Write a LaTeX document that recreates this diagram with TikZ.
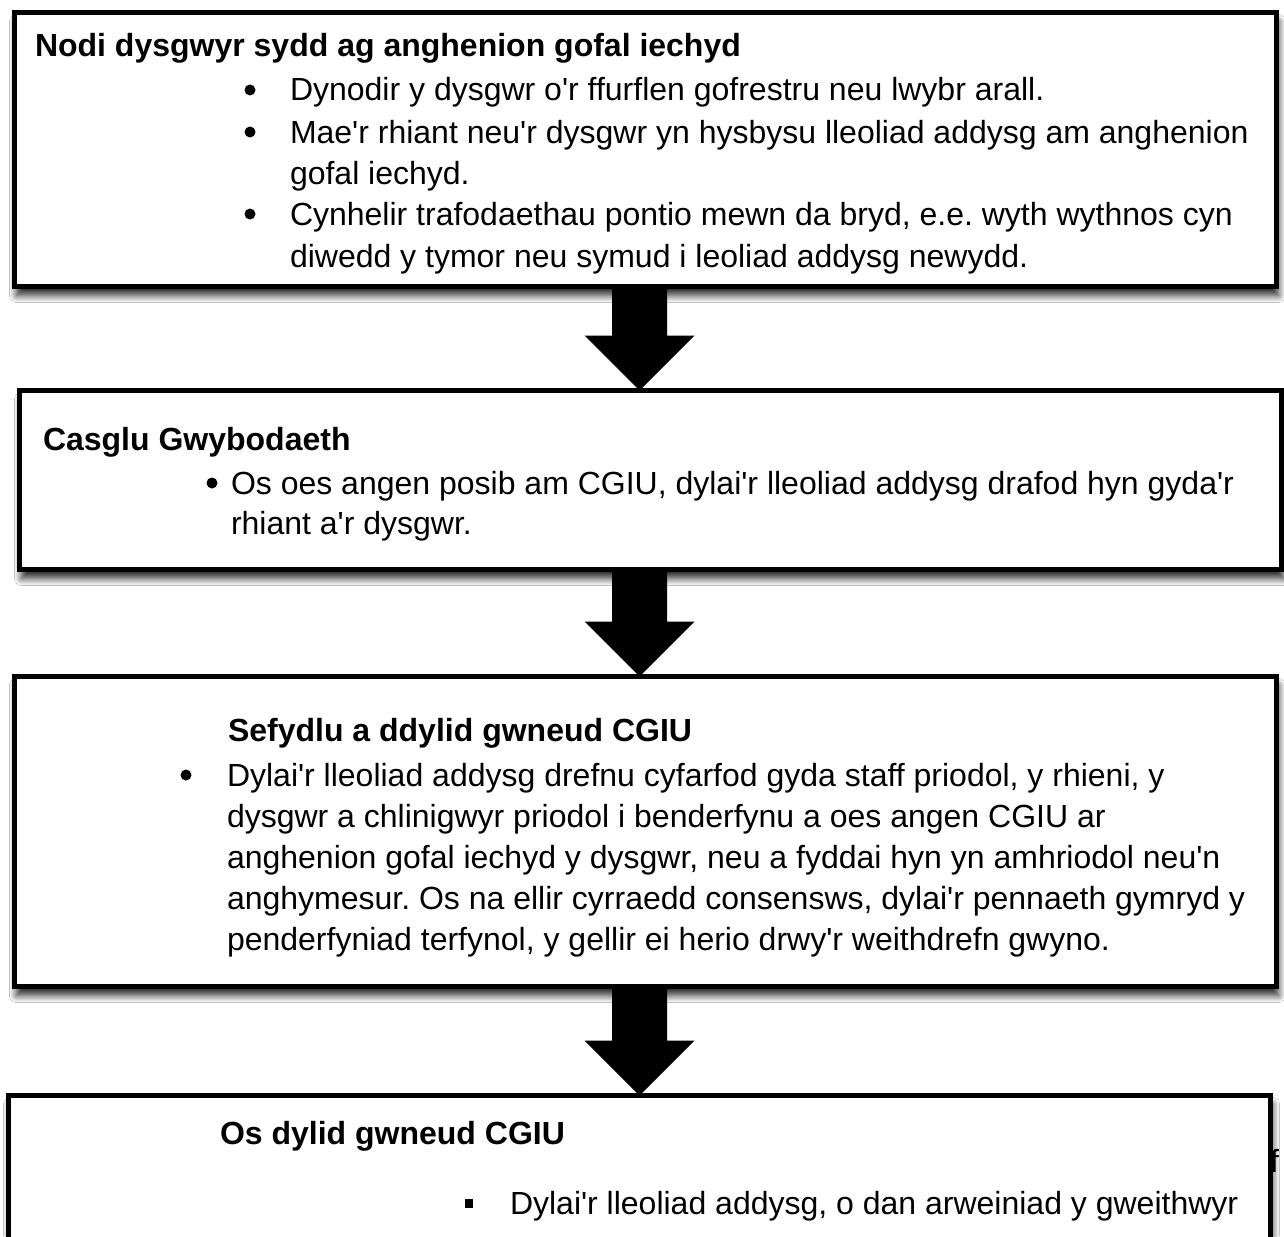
\documentclass[tikz,border=0pt]{standalone}
\usepackage{fontspec}
\setmainfont{Liberation Sans}[Ligatures=TeXOff]
\usetikzlibrary{calc,shadows.blur}
\frenchspacing
\tikzset{
  box/.style={draw=black, line width=5pt, fill=white, inner sep=0pt, outer sep=0pt,
    minimum width=1262pt, anchor=north west,
    blur shadow={shadow xshift=2pt, shadow yshift=-9pt, shadow blur radius=7pt, shadow opacity=85, shadow blur steps=12}},
  txt/.style={anchor=base west, inner sep=0pt, outer sep=0pt, font=\fontsize{32pt}{41pt}\selectfont},
  ttl/.style={anchor=base west, inner sep=0pt, outer sep=0pt, font=\fontsize{32pt}{41pt}\selectfont\bfseries},
  bdot/.style={circle, fill=black, inner sep=0pt, minimum size=11pt},
  bsq/.style={rectangle, fill=black, inner sep=0pt, minimum width=8pt, minimum height=9pt},
  arrowfill/.style={fill=black},
}
\newcommand\blockarrow[2]{%
  \fill[arrowfill] ($(#1.south -| axis)+(-27.5,0)$) -- ($(#1.south -| axis)+(27.5,0)$)
    -- ($(#2.north -| axis)+(27.5,-55)$) -- ($(#2.north -| axis)+(55,-55)$)
    -- (#2.north -| axis) -- ($(#2.north -| axis)+(-55,-55)$)
    -- ($(#2.north -| axis)+(-27.5,-55)$) -- cycle;}
\begin{document}
\begin{tikzpicture}[x=1pt, y=-1pt]
\clip (0,0) rectangle (1284,1236);
\fill[white] (0,0) rectangle (1284,1236);
\coordinate (axis) at (639.5,0);

% Box 1
\node[box, minimum height=274pt] (b1) at (14.5,12.5) {};
\node[ttl] (t1) at (35,57) {Nodi dysgwyr sydd ag anghenion gofal iechyd};
\node[bdot] (d1a) at (250,90) {};
\node[txt] (l1a) at (290,101) {Dynodir y dysgwr o'r ffurflen gofrestru neu lwybr arall.};
\node[bdot] (d1b) at (250,132) {};
\node[txt] (l1b) at (290,143) {Mae'r rhiant neu'r dysgwr yn hysbysu lleoliad addysg am anghenion};
\node[txt] (l1c) at (290,184) {gofal iechyd.};
\node[bdot] (d1c) at (250,214) {};
\node[txt] (l1d) at (290,225) {Cynhelir trafodaethau pontio mewn da bryd, e.e. wyth wythnos cyn};
\node[txt] (l1e) at (290,267) {diwedd y tymor neu symud i leoliad addysg newydd.};

% Box 2
\node[box, minimum height=179pt] (b2) at (19.5,390.5) {};
\node[ttl] (t2) at (43,450) {Casglu Gwybodaeth};
\node[bdot] (d2a) at (212,483) {};
\node[txt] (l2a) at (231,494) {Os oes angen posib am CGIU, dylai'r lleoliad addysg drafod hyn gyda'r};
\node[txt] (l2b) at (231,534) {rhiant a'r dysgwr.};

% Box 3
\node[box, minimum height=310pt] (b3) at (14.5,676.5) {};
\node[ttl] (t3) at (228,741) {Sefydlu a ddylid gwneud CGIU};
\node[bdot] (d3a) at (186,775) {};
\node[txt] (l3a) at (227,786) {Dylai'r lleoliad addysg drefnu cyfarfod gyda staff priodol, y rhieni, y};
\node[txt] (l3b) at (227,827) {dysgwr a chlinigwyr priodol i benderfynu a oes angen CGIU ar};
\node[txt] (l3c) at (227,868) {anghenion gofal iechyd y dysgwr, neu a fyddai hyn yn amhriodol neu'n};
\node[txt] (l3d) at (227,909) {anghymesur. Os na ellir cyrraedd consensws, dylai'r pennaeth gymryd y};
\node[txt] (l3e) at (227,950) {penderfyniad terfynol, y gellir ei herio drwy'r weithdrefn gwyno.};

% Box 4
\node[txt] (fx) at (1270,1172) {f};
\node[box, minimum height=400pt] (b4) at (8.5,1095.5) {};
\node[ttl] (t4) at (220,1144) {Os dylid gwneud CGIU};
\node[bsq] (d4a) at (469,1203) {};
\node[txt] (l4a) at (510,1214) {Dylai'r lleoliad addysg, o dan arweiniad y gweithwyr};

% Arrows
\blockarrow{b1}{b2}
\blockarrow{b2}{b3}
\blockarrow{b3}{b4}
\end{tikzpicture}
\end{document}
